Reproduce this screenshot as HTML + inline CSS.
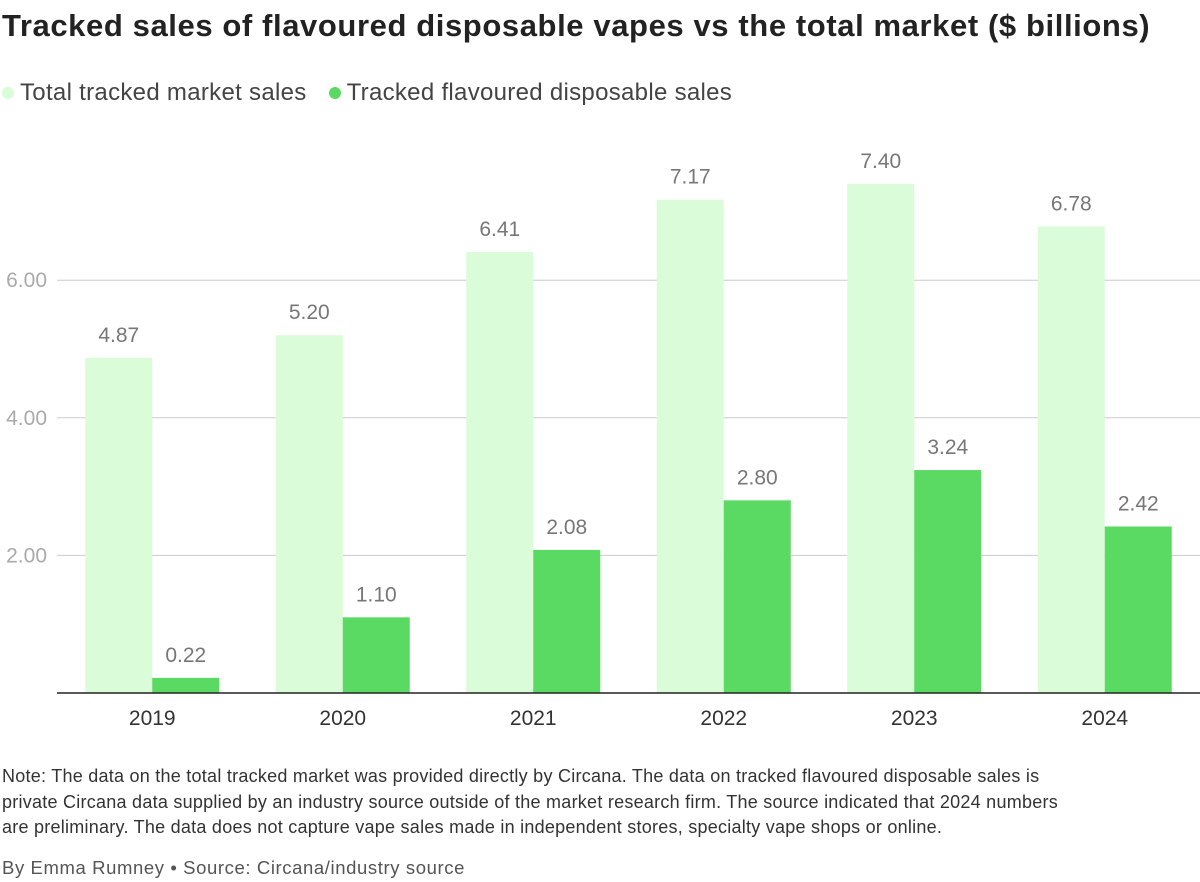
<!DOCTYPE html>
<html><head><meta charset="utf-8"><style>
body{margin:0;width:1200px;height:882px;background:#fff;font-family:"Liberation Sans",sans-serif;overflow:hidden;position:relative}
h1{position:absolute;left:2px;top:8px;margin:0;font-size:31px;font-weight:bold;color:#222;letter-spacing:0.6px;white-space:nowrap}
.legend{position:absolute;left:2px;top:79px;font-size:24px;color:#444;display:flex;gap:22px;letter-spacing:0.3px;white-space:nowrap}
.legend span{display:flex;align-items:center}
.dot{width:12px;height:12px;border-radius:50%;display:inline-block;margin-right:6px}
.note{position:absolute;left:2px;top:764px;font-size:18px;line-height:25.5px;color:#333;white-space:nowrap;letter-spacing:0.25px}
.by{position:absolute;left:2px;top:857px;font-size:18.5px;color:#555;letter-spacing:0.6px;white-space:nowrap}
</style></head><body>
<h1>Tracked sales of flavoured disposable vapes vs the total market ($ billions)</h1>
<div class="legend">
<span><i class="dot" style="background:#dafcd8"></i>Total tracked market sales</span>
<span><i class="dot" style="background:#5ad963"></i>Tracked flavoured disposable sales</span>
</div>
<svg id="chart" width="1200" height="760" style="position:absolute;left:0;top:0"></svg>
<div class="note">Note: The data on the total tracked market was provided directly by Circana. The data on tracked flavoured disposable sales is<br>private Circana data supplied by an industry source outside of the market research firm. The source indicated that 2024 numbers<br>are preliminary. The data does not capture vape sales made in independent stores, specialty vape shops or online.</div>
<div class="by">By Emma Rumney • Source: Circana/industry source</div>
<script>
const categories=["2019","2020","2021","2022","2023","2024"];
const totalSales=[4.87,5.20,6.41,7.17,7.40,6.78];
const flavouredSales=[0.22,1.10,2.08,2.80,3.24,2.42];
const tickValues=[2,4,6];
const svg=document.getElementById('chart');
const NS='http://www.w3.org/2000/svg';
const x0=57,x1=1200,y0=693,pxPerUnit=68.8;
const step=(x1-x0)/categories.length,bw=67;
const y=v=>y0-v*pxPerUnit;
const cx=i=>x0+step*(i+0.5);
function mk(t,a){const e=document.createElementNS(NS,t);for(const k in a)e.setAttribute(k,a[k]);svg.appendChild(e);return e;}
tickValues.forEach(v=>{
 const l=mk('line',{x1:x0,x2:x1,y1:y(v),y2:y(v),stroke:'#ccc','stroke-width':1});
 
 
 const t=mk('text',{x:47,y:y(v)+7,'text-anchor':'end','font-size':21,fill:'#aaa','font-family':'Liberation Sans'});
 t.textContent=v.toFixed(2);
 
 
});
categories.forEach((c,i)=>{
 const a=mk('rect',{x:cx(i)-bw,y:y(totalSales[i]),width:bw,height:totalSales[i]*pxPerUnit,fill:'#dafcd8'});
 
 
 const b=mk('rect',{x:cx(i),y:y(flavouredSales[i]),width:bw,height:flavouredSales[i]*pxPerUnit,fill:'#5ad963'});
 
 
 const ta=mk('text',{x:cx(i)-bw/2,y:y(totalSales[i])-16,'text-anchor':'middle','font-size':21,fill:'#777','font-family':'Liberation Sans'});
 ta.textContent=totalSales[i].toFixed(2);
 
 
 const tb=mk('text',{x:cx(i)+bw/2,y:y(flavouredSales[i])-16,'text-anchor':'middle','font-size':21,fill:'#777','font-family':'Liberation Sans'});
 tb.textContent=flavouredSales[i].toFixed(2);
 
 
 const xl=mk('text',{x:cx(i),y:y0+32,'text-anchor':'middle','font-size':21,fill:'#333','font-family':'Liberation Sans'});
 xl.textContent=c;
 
 
});
const ax=mk('line',{x1:x0,x2:x1,y1:y0,y2:y0,stroke:'#222','stroke-width':1.5});


</script>
</body></html>
